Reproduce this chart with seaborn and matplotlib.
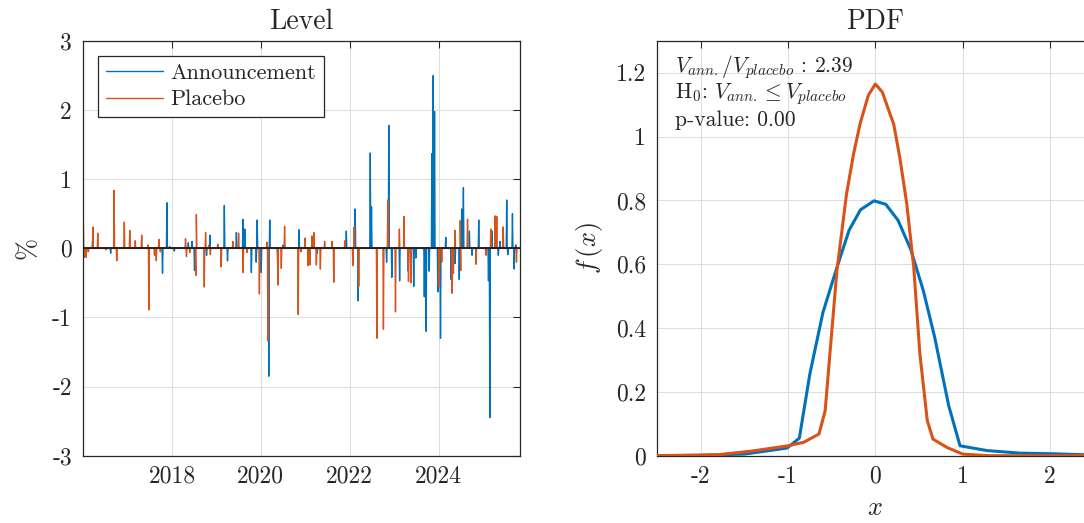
import pandas as pd
import matplotlib
matplotlib.use("Agg")
import matplotlib.pyplot as plt
import seaborn as sns

# announcement-day moves (%)
ann_dates = ["2016-03-20", "2016-08-15", "2017-10-15", "2017-11-20", "2018-01-20", "2018-05-15",
             "2018-06-15", "2018-07-05", "2018-10-12", "2018-11-08", "2019-03-07", "2019-04-02",
             "2019-06-14", "2019-08-07", "2019-08-22", "2019-10-15", "2019-11-24", "2019-12-02",
             "2020-01-04", "2020-03-06", "2020-03-14", "2020-05-19", "2020-07-01", "2020-11-10",
             "2021-04-08", "2021-12-03", "2022-02-14", "2022-03-11", "2022-06-18", "2022-06-28",
             "2022-10-30", "2022-11-17", "2022-12-12", "2023-02-14", "2023-04-26", "2023-06-10",
             "2023-06-27", "2023-09-05", "2023-09-20", "2023-10-15", "2023-11-06", "2023-11-17",
             "2023-11-28", "2023-12-25", "2024-01-16", "2024-02-28", "2024-04-12", "2024-05-15",
             "2024-06-18", "2024-07-08", "2024-07-22", "2024-09-09", "2024-10-01", "2024-11-25",
             "2025-01-22", "2025-02-13", "2025-02-24", "2025-03-14", "2025-05-05", "2025-05-19",
             "2025-07-13", "2025-07-22", "2025-08-29", "2025-09-12", "2025-09-25"]
ann_values = [0.12, -0.07, -0.36, 0.66, -0.04, 0.08,
              0.10, -0.32, -0.10, 0.19, 0.62, -0.18,
              0.23, 0.42, 0.28, -0.35, -0.20, 0.41,
              -0.35, -1.85, 0.41, -0.26, 0.05, 0.27,
              -0.07, 0.25, 0.57, -0.76, 1.38, 0.60,
              -0.20, 1.78, -0.42, -0.47, -0.33, -0.55,
              -0.14, -0.70, -1.20, -0.33, 1.37, 2.50,
              1.98, -0.63, -1.30, 0.16, -0.45, -0.22,
              -0.45, 0.57, 0.88, 0.25, -0.10, 0.41,
              -0.05, -0.47, -2.45, 0.25, -0.10, 0.10,
              0.70, -0.09, 0.50, -0.30, 0.05]

# placebo-day moves (%)
plc_dates = ["2016-01-03", "2016-01-12", "2016-01-27", "2016-02-14", "2016-03-22", "2016-05-01",
             "2016-07-08", "2016-09-12", "2016-10-04", "2016-12-05", "2017-01-19", "2017-03-05",
             "2017-04-27", "2017-06-17", "2017-06-25", "2017-08-10", "2017-08-25", "2017-09-15",
             "2017-09-27", "2017-12-13", "2018-04-22", "2018-04-30", "2018-05-27", "2018-07-16",
             "2018-07-20", "2018-09-23", "2018-10-04", "2018-10-30", "2018-11-12", "2019-01-12",
             "2019-02-09", "2019-05-16", "2019-07-02", "2019-08-08", "2019-09-10", "2019-12-20",
             "2020-02-20", "2020-02-28", "2020-05-20", "2020-06-17", "2020-07-14", "2020-11-03",
             "2020-11-25", "2020-12-28", "2021-01-23", "2021-02-06", "2021-02-24", "2021-03-11",
             "2021-04-01", "2021-05-04", "2021-06-08", "2021-08-08", "2021-08-22", "2021-11-21",
             "2022-01-26", "2022-02-06", "2022-03-15", "2022-08-11", "2022-10-04", "2022-11-09",
             "2023-01-11", "2023-02-12", "2023-03-22", "2023-04-28", "2023-05-18", "2024-01-05",
             "2024-01-26", "2024-04-19", "2024-05-01", "2024-05-14", "2024-06-26", "2024-06-30",
             "2024-08-25", "2024-11-03", "2025-01-24", "2025-03-04", "2025-04-09", "2025-04-22",
             "2025-06-14", "2025-10-01"]
plc_values = [0.42, -0.13, -0.13, -0.05, 0.31, 0.22,
              -0.02, 0.84, -0.18, 0.38, 0.26, 0.11,
              0.19, 0.05, -0.89, -0.10, -0.18, 0.13,
              -0.05, 0.03, 0.14, -0.12, -0.06, -0.39,
              0.49, -0.56, 0.23, 0.04, -0.09, 0.06,
              -0.27, 0.10, 0.22, -0.35, -0.06, -0.66,
              0.09, -1.34, -0.53, -0.29, 0.32, -0.96,
              -0.05, 0.15, -0.25, -0.24, 0.18, 0.23,
              -0.24, -0.30, 0.10, 0.10, -0.49, 0.11,
              -0.25, 0.31, -0.55, -1.30, -1.17, 0.70,
              -0.92, 0.28, 0.46, -0.48, -0.50, -0.55,
              -0.20, -0.65, -0.36, 0.26, 0.40, -0.32,
              0.42, -0.23, -0.10, 0.28, 0.47, 0.46,
              0.31, -0.20]

year_ticks = ["2018-01-01", "2020-01-01", "2022-01-01", "2024-01-01"]
year_labels = ["2018", "2020", "2022", "2024"]

# estimated densities
ann_pdf_x = [-2.5, -2.0, -1.5, -1.01, -0.87, -0.75, -0.60, -0.44, -0.30, -0.17, -0.015,
             0.12, 0.26, 0.405, 0.55, 0.68, 0.84, 0.97, 1.28, 1.66, 2.04, 2.5]
ann_pdf_y = [0.0, 0.001, 0.005, 0.024, 0.055, 0.256, 0.449, 0.59, 0.707, 0.771, 0.799,
             0.788, 0.738, 0.647, 0.517, 0.371, 0.157, 0.031, 0.016, 0.008, 0.006, 0.002]
plc_pdf_x = [-2.5, -1.8, -1.4, -1.0, -0.82, -0.645, -0.575, -0.52, -0.44, -0.33, -0.25, -0.175,
             -0.08, 0.0, 0.08, 0.17, 0.21, 0.28, 0.36, 0.44, 0.51, 0.595, 0.66, 0.82, 1.0, 1.3, 2.5]
plc_pdf_y = [0.0, 0.003, 0.015, 0.031, 0.042, 0.068, 0.14, 0.32, 0.58, 0.82, 0.945, 1.04,
             1.13, 1.165, 1.14, 1.07, 1.04, 0.935, 0.79, 0.59, 0.32, 0.11, 0.052, 0.026, 0.005, 0.0, 0.0]

ratio = 2.39
pval = 0.00

BLUE = "#0072BD"
ORANGE = "#D95319"


def spikes(dates, values, name):
    # each observation drawn as a narrow spike from zero
    rows = []
    for d, v in zip(pd.to_datetime(dates), values):
        rows.append((d - pd.Timedelta(days=4), 0.0))
        rows.append((d, v))
        rows.append((d + pd.Timedelta(days=4), 0.0))
    df = pd.DataFrame(rows, columns=["date", "value"]).sort_values("date")
    df["series"] = name
    return df


sns.set_style("whitegrid")
plt.rcParams["font.family"] = ["cmr10", "DejaVu Sans"]
plt.rcParams["mathtext.fontset"] = "cm"
plt.rcParams["axes.unicode_minus"] = False
plt.rcParams["axes.formatter.use_mathtext"] = False

fig = plt.figure(figsize=(10.84, 5.23), dpi=100)
ax1 = fig.add_axes([0.0766, 0.1287, 0.4031, 0.7929])
ax2 = fig.add_axes([0.6061, 0.1287, 0.4028, 0.7929])

level = pd.concat([spikes(ann_dates, ann_values, "Announcement"),
                   spikes(plc_dates, plc_values, "Placebo")], ignore_index=True)
sns.lineplot(data=level, x="date", y="value", hue="series", estimator=None, sort=True,
             palette={"Announcement": BLUE, "Placebo": ORANGE}, linewidth=1.0, ax=ax1)
ax1.axhline(0, color="#1a1a1a", lw=1.3, zorder=5)
ax1.set_xlim(pd.Timestamp("2016-01-01"), pd.Timestamp("2025-10-30"))
ax1.set_ylim(-3, 3)
ax1.set_yticks(range(-3, 4))
ax1.set_yticklabels([str(v) for v in range(-3, 4)])
ax1.set_xticks(pd.to_datetime(year_ticks))
ax1.set_xticklabels(year_labels)
ax1.set_xlabel("")
ax1.set_ylabel("%", fontsize=19, labelpad=9)
ax1.set_title("Level", fontsize=20, pad=9)
leg = ax1.legend(loc="upper left", bbox_to_anchor=(0.034, 0.964), borderaxespad=0,
                 fontsize=16, frameon=True, fancybox=False, edgecolor="#262626",
                 framealpha=1, handlelength=2.6, borderpad=0.35, labelspacing=0.3,
                 handletextpad=0.3)
leg.get_frame().set_linewidth(0.9)
for h in leg.get_lines():
    h.set_linewidth(1.0)

pdf = pd.concat([pd.DataFrame({"x": ann_pdf_x, "f": ann_pdf_y, "series": "Announcement"}),
                 pd.DataFrame({"x": plc_pdf_x, "f": plc_pdf_y, "series": "Placebo"})],
                ignore_index=True)
sns.lineplot(data=pdf, x="x", y="f", hue="series", estimator=None, sort=True,
             palette={"Announcement": BLUE, "Placebo": ORANGE}, linewidth=2.2,
             legend=False, ax=ax2, zorder=3)
ax2.set_xlim(-2.5, 2.5)
ax2.set_ylim(0, 1.3)
ax2.set_xticks([-2, -1, 0, 1, 2])
ax2.set_xticklabels(["-2", "-1", "0", "1", "2"])
ax2.set_yticks([0, 0.2, 0.4, 0.6, 0.8, 1.0, 1.2])
ax2.set_yticklabels(["0", "0.2", "0.4", "0.6", "0.8", "1", "1.2"])
ax2.set_xlabel("$x$", fontsize=19, labelpad=6)
ax2.set_ylabel("$f\\,(x)$", fontsize=19, labelpad=8)
ax2.set_title("PDF", fontsize=20, pad=9)
ax2.text(0.041, 0.937, "$V_{ann.}/V_{placebo}$ : %.2f" % ratio, transform=ax2.transAxes,
         fontsize=15.5, va="center", color="#262626")
ax2.text(0.041, 0.872, "H$_0$: $V_{ann.}\\leq V_{placebo}$", transform=ax2.transAxes,
         fontsize=15.5, va="center", color="#262626")
ax2.text(0.041, 0.809, "p-value: %.2f" % pval, transform=ax2.transAxes,
         fontsize=15.5, va="center", color="#262626")

for ax in (ax1, ax2):
    ax.grid(True, color="#dcdcdc", lw=0.7)
    ax.set_axisbelow(True)
    for s in ax.spines.values():
        s.set_visible(True)
        s.set_color("#262626")
        s.set_linewidth(0.9)
    ax.tick_params(direction="in", length=5, width=0.8, top=True, right=True,
                   labelsize=17, colors="#262626", pad=7)
    ax.tick_params(axis="y", pad=8)
    ax.set_facecolor("white")

fig.savefig("out.png", dpi=100, facecolor="white")
